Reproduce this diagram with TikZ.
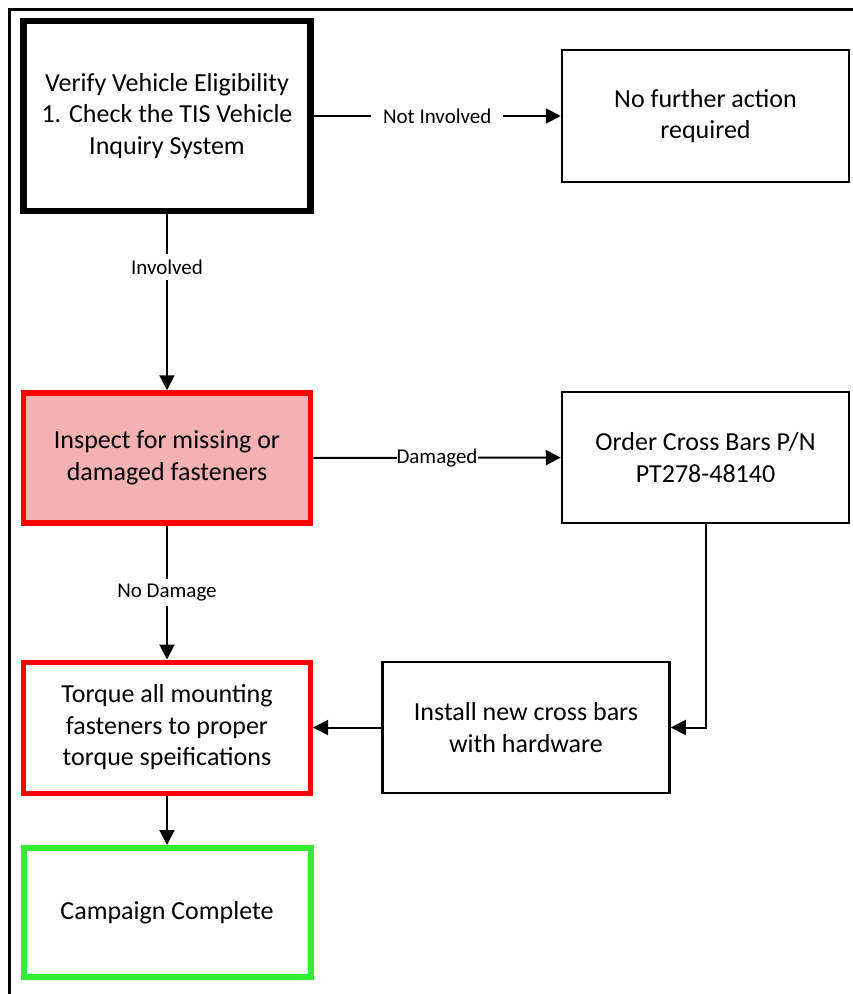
\documentclass[tikz,border=0pt]{standalone}
\usepackage{fontspec}
\setmainfont{Carlito}
\usepackage{tikz}
\usetikzlibrary{positioning,arrows.meta}

\definecolor{alertred}{RGB}{255,0,0}
\definecolor{alertpink}{RGB}{244,177,179}
\definecolor{donegreen}{RGB}{51,238,51}

\begin{document}
\begin{tikzpicture}[x=1pt, y=-1pt,
    every node/.style = {align=center},
    box/.style = {draw, line width=2.5pt, minimum width=287pt, minimum height=131pt,
      inner sep=0pt, font=\fontsize{26}{31.5}\selectfont},
    redbox/.style = {draw=alertred, line width=5.5pt},
    greenbox/.style = {draw=donegreen, line width=6pt},
    arr/.style = {line width=2pt, -{Triangle[length=15pt,width=15pt]}},
    tag/.style = {fill=white, inner sep=2pt, font=\fontsize{21}{24}\selectfont}]
    \useasboundingbox (0,0) rectangle (853,994);
    % frame
    \draw[line width=3pt] (9.5,994) -- (9.5,9.5) -- (853,9.5);
    \node[box, line width=6.5pt, minimum height=190pt] (verify) at (167,116)
      {Verify Vehicle Eligibility\\1. Check the TIS Vehicle\\Inquiry System};
    \node[box, minimum height=132pt] (noaction) at (705.5,116) {No further action\\required};
    \node[box, redbox, fill=alertpink, minimum height=130pt] (inspect) at (167,458)
      {Inspect for missing or\\damaged fasteners};
    \node[box] (order) at (705.5,457.5) {Order Cross Bars P/N\\PT278-48140};
    \node[box, redbox, line width=5pt] (torque) at (167,727.5)
      {Torque all mounting\\fasteners to proper\\torque speifications};
    \node[box] (install) at (526,727.5) {Install new cross bars\\with hardware};
    \node[box, greenbox, minimum height=129pt] (complete) at (167,912.5) {Campaign Complete};
    % connectors
    \draw[arr] (verify) -- node[tag, inner xsep=12pt] {Not Involved} (noaction);
    \draw[arr] (verify) -- node[tag, pos=0.3, inner ysep=6pt] {Involved} (inspect);
    \draw[arr] (inspect) -- node[tag, inner sep=0pt] {Damaged} (order);
    \draw[arr] (inspect) -- node[tag, inner ysep=5pt] {No Damage} (torque);
    \draw[arr] (order) |- (install);
    \draw[arr] (install) -- (torque);
    \draw[arr] (torque) -- (complete);
  \end{tikzpicture}
\end{document}
